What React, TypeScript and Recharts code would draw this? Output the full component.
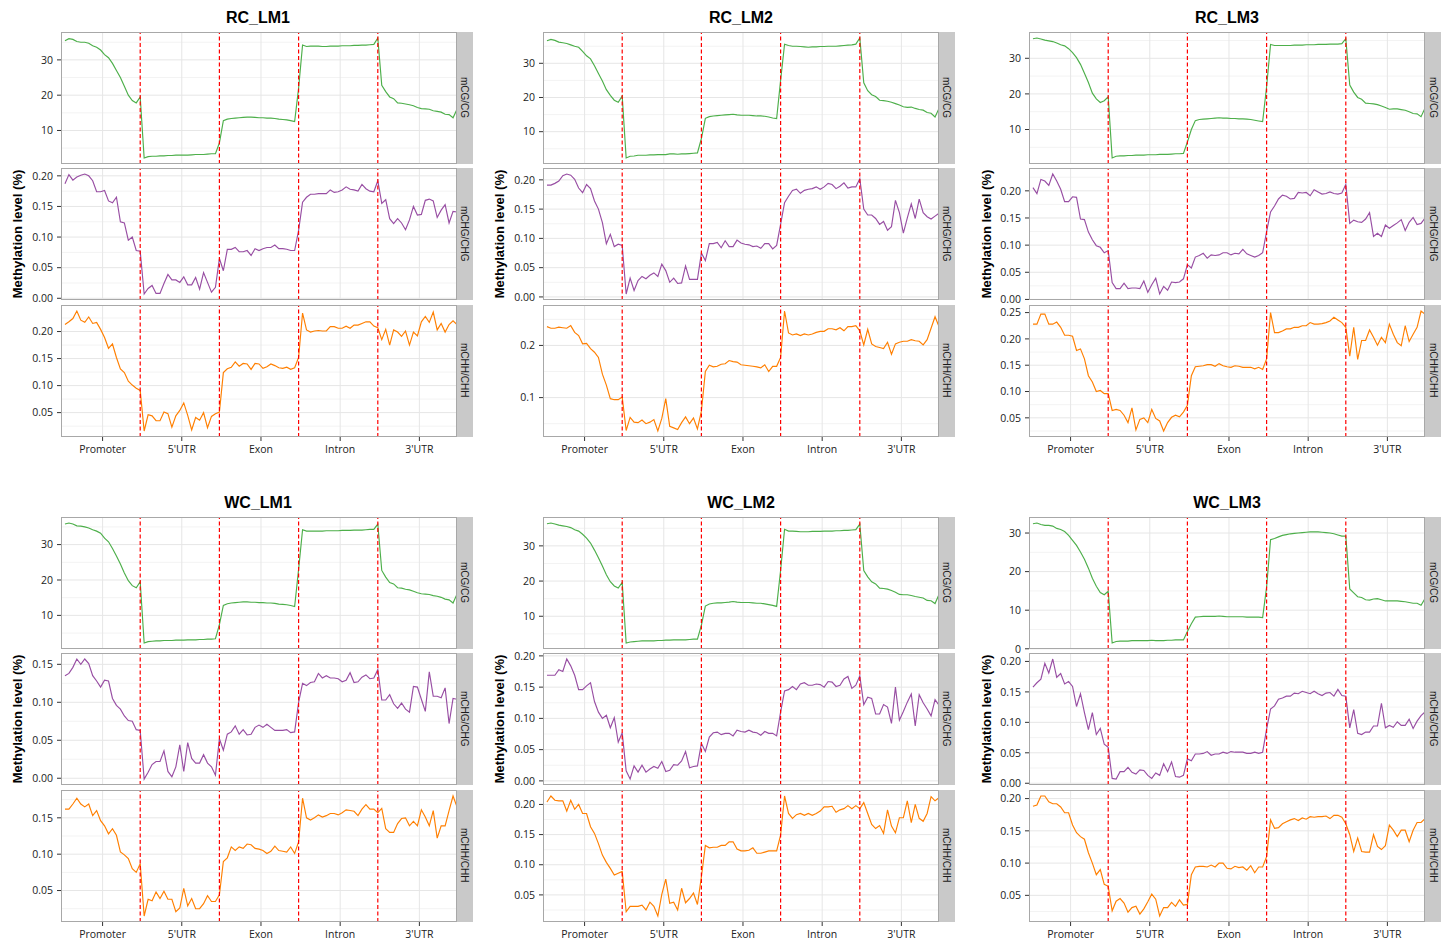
import { LineChart, Line, XAxis, YAxis, ReferenceLine } from "recharts";

const REGIONS = ["Promoter", "5'UTR", "Exon", "Intron", "3'UTR"];
const REGION_TICKS = [10.5, 30.5, 50.5, 70.5, 90.5];
const BOUNDARIES = [20, 40, 60, 80];
const CONTEXTS = ["mCG/CG", "mCHG/CHG", "mCHH/CHH"];
const COLORS = ["#4daf4a", "#984ea3", "#ff7f00"];

// methylation level per bin, 20 bins per region (Promoter, 5'UTR, Exon, Intron, 3'UTR)
const RC_LM1_CG = [
  35.4, 36.0, 35.8, 35.2, 35.0, 35.0, 34.7, 34.0, 33.6, 32.8, 31.5, 30.6, 29.0, 27.0, 25.0, 22.5, 20.0, 18.5, 17.8, 19.5,
  2.2, 2.6, 2.7, 2.7, 2.8, 2.8, 2.9, 2.9, 3.0, 3.0, 3.0, 3.0, 3.1, 3.2, 3.2, 3.2, 3.3, 3.4, 3.4, 6.5,
  12.8, 13.2, 13.4, 13.5, 13.6, 13.7, 13.8, 13.8, 13.7, 13.6, 13.6, 13.5, 13.5, 13.4, 13.2, 13.1, 13.0, 12.8, 12.5, 22.0,
  34.2, 33.8, 33.9, 33.9, 33.9, 33.8, 33.8, 33.9, 33.9, 33.9, 34.0, 34.0, 34.0, 34.1, 34.1, 34.2, 34.2, 34.3, 34.4, 36.2,
  22.8, 21.0, 19.5, 19.0, 17.8, 17.7, 17.5, 17.3, 17.0, 16.5, 16.2, 16.1, 16.0, 15.6, 15.4, 15.2, 14.6, 14.5, 13.6, 16.0,
];
const RC_LM1_CHG = [
  0.187, 0.202, 0.193, 0.198, 0.201, 0.203, 0.200, 0.192, 0.174, 0.174, 0.176, 0.159, 0.156, 0.165, 0.125, 0.123, 0.095, 0.100, 0.078, 0.077,
  0.007, 0.016, 0.021, 0.008, 0.008, 0.024, 0.039, 0.030, 0.030, 0.026, 0.035, 0.022, 0.022, 0.034, 0.015, 0.042, 0.026, 0.010, 0.018, 0.065,
  0.045, 0.080, 0.080, 0.083, 0.076, 0.076, 0.078, 0.070, 0.081, 0.078, 0.081, 0.083, 0.083, 0.087, 0.081, 0.081, 0.080, 0.078, 0.078, 0.111,
  0.157, 0.165, 0.170, 0.170, 0.171, 0.171, 0.171, 0.177, 0.173, 0.174, 0.177, 0.182, 0.178, 0.177, 0.175, 0.186, 0.179, 0.175, 0.174, 0.192,
  0.155, 0.161, 0.130, 0.122, 0.130, 0.123, 0.112, 0.128, 0.150, 0.136, 0.137, 0.160, 0.162, 0.159, 0.132, 0.144, 0.153, 0.123, 0.142, 0.141,
];
const RC_LM1_CHH = [
  0.213, 0.218, 0.224, 0.238, 0.221, 0.217, 0.227, 0.215, 0.217, 0.204, 0.189, 0.169, 0.177, 0.152, 0.131, 0.124, 0.108, 0.101, 0.095, 0.091,
  0.016, 0.046, 0.044, 0.035, 0.035, 0.051, 0.048, 0.023, 0.044, 0.054, 0.068, 0.045, 0.018, 0.041, 0.036, 0.050, 0.022, 0.043, 0.048, 0.051,
  0.124, 0.131, 0.134, 0.144, 0.136, 0.141, 0.140, 0.130, 0.141, 0.140, 0.132, 0.135, 0.140, 0.137, 0.133, 0.132, 0.134, 0.130, 0.133, 0.152,
  0.234, 0.203, 0.199, 0.201, 0.202, 0.201, 0.201, 0.209, 0.209, 0.206, 0.206, 0.210, 0.206, 0.212, 0.212, 0.215, 0.218, 0.218, 0.210, 0.207,
  0.185, 0.204, 0.175, 0.203, 0.199, 0.191, 0.201, 0.175, 0.199, 0.192, 0.218, 0.228, 0.217, 0.236, 0.203, 0.215, 0.199, 0.213, 0.220, 0.213,
];

const RC_LM2_CG = [
  36.6, 37.0, 36.7, 36.2, 36.0, 35.8, 35.4, 35.0, 34.7, 33.5, 32.2, 31.3, 29.3, 27.0, 24.8, 22.3, 20.6, 19.2, 18.6, 20.4,
  2.3, 2.8, 2.9, 3.1, 3.1, 3.1, 3.2, 3.2, 3.3, 3.3, 3.3, 3.5, 3.5, 3.4, 3.5, 3.5, 3.6, 3.7, 3.8, 8.0,
  13.9, 14.4, 14.6, 14.7, 14.8, 14.9, 15.0, 15.1, 14.9, 14.8, 14.8, 14.8, 14.7, 14.6, 14.6, 14.5, 14.3, 14.0, 13.8, 25.0,
  35.6, 35.2, 35.0, 35.0, 34.9, 34.8, 34.7, 34.8, 34.8, 34.9, 34.9, 35.0, 35.0, 35.0, 35.1, 35.2, 35.3, 35.4, 35.6, 37.4,
  24.3, 22.0, 20.8, 20.3, 19.2, 19.1, 18.9, 18.6, 18.2, 17.8, 17.3, 17.1, 17.2, 16.8, 16.5, 16.3, 15.6, 15.4, 14.3, 16.8,
];
const RC_LM2_CHG = [
  0.191, 0.191, 0.194, 0.198, 0.207, 0.210, 0.208, 0.201, 0.186, 0.178, 0.192, 0.185, 0.164, 0.150, 0.127, 0.091, 0.107, 0.086, 0.090, 0.088,
  0.005, 0.032, 0.011, 0.028, 0.035, 0.031, 0.037, 0.041, 0.035, 0.056, 0.045, 0.025, 0.032, 0.023, 0.024, 0.053, 0.030, 0.030, 0.030, 0.075,
  0.062, 0.091, 0.091, 0.093, 0.084, 0.096, 0.086, 0.086, 0.097, 0.092, 0.090, 0.089, 0.086, 0.087, 0.083, 0.091, 0.091, 0.082, 0.088, 0.124,
  0.161, 0.172, 0.182, 0.184, 0.177, 0.182, 0.184, 0.185, 0.188, 0.184, 0.188, 0.194, 0.192, 0.185, 0.189, 0.195, 0.186, 0.188, 0.188, 0.202,
  0.150, 0.140, 0.140, 0.134, 0.124, 0.129, 0.114, 0.120, 0.165, 0.144, 0.109, 0.135, 0.159, 0.134, 0.167, 0.144, 0.137, 0.133, 0.138, 0.143,
];
const RC_LM2_CHH = [
  0.236, 0.233, 0.233, 0.235, 0.234, 0.233, 0.238, 0.225, 0.219, 0.203, 0.204, 0.194, 0.187, 0.177, 0.145, 0.124, 0.098, 0.096, 0.096, 0.101,
  0.037, 0.062, 0.053, 0.052, 0.057, 0.050, 0.053, 0.058, 0.036, 0.060, 0.098, 0.045, 0.042, 0.039, 0.052, 0.063, 0.050, 0.061, 0.040, 0.074,
  0.150, 0.162, 0.159, 0.160, 0.164, 0.165, 0.171, 0.169, 0.168, 0.163, 0.162, 0.161, 0.160, 0.159, 0.157, 0.163, 0.150, 0.160, 0.160, 0.177,
  0.266, 0.224, 0.220, 0.222, 0.219, 0.222, 0.220, 0.222, 0.225, 0.227, 0.227, 0.232, 0.232, 0.230, 0.234, 0.228, 0.236, 0.236, 0.238, 0.228,
  0.201, 0.231, 0.203, 0.198, 0.196, 0.194, 0.206, 0.183, 0.203, 0.206, 0.208, 0.208, 0.211, 0.209, 0.208, 0.201, 0.211, 0.233, 0.255, 0.236,
];

const RC_LM3_CG = [
  35.5, 35.7, 35.4, 35.1, 34.9, 34.7, 34.3, 33.8, 33.5, 32.7, 31.6, 30.2, 28.3, 25.8, 23.2, 20.2, 18.6, 17.6, 18.1, 19.2,
  2.0, 2.5, 2.6, 2.6, 2.7, 2.7, 2.8, 2.8, 2.8, 2.9, 2.9, 2.9, 3.0, 3.0, 3.0, 3.1, 3.2, 3.2, 3.3, 6.5,
  10.0, 12.5, 12.8, 12.9, 13.0, 13.1, 13.2, 13.3, 13.2, 13.2, 13.1, 13.1, 13.0, 13.0, 12.9, 12.8, 12.6, 12.4, 12.2, 22.0,
  33.9, 33.6, 33.6, 33.6, 33.6, 33.6, 33.7, 33.7, 33.7, 33.8, 33.8, 33.8, 33.9, 33.9, 33.9, 34.0, 34.0, 34.0, 34.1, 35.5,
  22.5, 20.5, 19.0, 18.5, 17.4, 17.3, 17.2, 17.0, 16.6, 16.2, 15.7, 15.8, 15.8, 15.6, 15.4, 15.0, 14.5, 14.4, 13.6, 16.0,
];
const RC_LM3_CHG = [
  0.206, 0.195, 0.221, 0.218, 0.210, 0.231, 0.218, 0.203, 0.180, 0.180, 0.189, 0.188, 0.148, 0.147, 0.124, 0.110, 0.099, 0.096, 0.086, 0.090,
  0.031, 0.020, 0.020, 0.030, 0.020, 0.021, 0.021, 0.020, 0.034, 0.013, 0.027, 0.039, 0.010, 0.024, 0.017, 0.032, 0.031, 0.032, 0.038, 0.064,
  0.058, 0.078, 0.081, 0.085, 0.076, 0.082, 0.081, 0.082, 0.086, 0.086, 0.082, 0.085, 0.084, 0.092, 0.084, 0.081, 0.078, 0.081, 0.086, 0.125,
  0.161, 0.172, 0.185, 0.192, 0.190, 0.185, 0.186, 0.197, 0.196, 0.197, 0.191, 0.202, 0.198, 0.194, 0.195, 0.198, 0.195, 0.194, 0.196, 0.212,
  0.140, 0.146, 0.143, 0.142, 0.148, 0.160, 0.116, 0.122, 0.116, 0.137, 0.131, 0.136, 0.141, 0.147, 0.127, 0.142, 0.151, 0.138, 0.140, 0.150,
];
const RC_LM3_CHH = [
  0.228, 0.228, 0.247, 0.247, 0.228, 0.228, 0.232, 0.222, 0.207, 0.207, 0.205, 0.178, 0.181, 0.162, 0.130, 0.118, 0.100, 0.102, 0.096, 0.096,
  0.064, 0.066, 0.064, 0.055, 0.041, 0.069, 0.027, 0.047, 0.050, 0.041, 0.066, 0.049, 0.044, 0.025, 0.041, 0.051, 0.055, 0.052, 0.061, 0.074,
  0.130, 0.147, 0.148, 0.149, 0.151, 0.151, 0.148, 0.153, 0.149, 0.147, 0.146, 0.149, 0.148, 0.146, 0.146, 0.146, 0.143, 0.146, 0.142, 0.162,
  0.250, 0.212, 0.212, 0.215, 0.219, 0.219, 0.222, 0.222, 0.225, 0.225, 0.231, 0.228, 0.228, 0.229, 0.231, 0.234, 0.241, 0.236, 0.231, 0.222,
  0.167, 0.222, 0.161, 0.197, 0.197, 0.217, 0.203, 0.188, 0.203, 0.193, 0.228, 0.209, 0.193, 0.187, 0.225, 0.195, 0.209, 0.222, 0.253, 0.247,
];

const WC_LM1_CG = [
  35.8, 36.1, 35.8, 35.3, 35.2, 35.0, 34.7, 34.2, 33.8, 33.2, 31.8, 30.8, 28.9, 26.8, 24.5, 22.0, 19.8, 18.4, 17.8, 19.5,
  2.2, 2.6, 2.7, 2.8, 2.8, 2.9, 2.9, 2.9, 3.0, 3.0, 3.0, 3.1, 3.1, 3.1, 3.2, 3.2, 3.3, 3.3, 3.4, 7.4,
  12.8, 13.3, 13.5, 13.6, 13.7, 13.8, 13.8, 13.7, 13.7, 13.6, 13.6, 13.5, 13.5, 13.4, 13.2, 13.1, 13.0, 12.8, 12.5, 23.0,
  34.2, 33.8, 33.8, 33.8, 33.8, 33.8, 33.9, 33.9, 33.9, 33.9, 34.0, 34.0, 34.0, 34.1, 34.1, 34.1, 34.2, 34.3, 34.3, 35.8,
  22.7, 20.8, 19.3, 18.9, 17.8, 17.7, 17.4, 17.2, 16.8, 16.4, 16.1, 16.0, 15.9, 15.6, 15.4, 15.1, 14.6, 14.4, 13.5, 16.0,
];
const WC_LM1_CHG = [
  0.135, 0.138, 0.146, 0.157, 0.150, 0.157, 0.151, 0.135, 0.128, 0.120, 0.129, 0.128, 0.105, 0.096, 0.091, 0.082, 0.076, 0.075, 0.064, 0.063,
  -0.001, 0.008, 0.018, 0.022, 0.022, 0.036, 0.009, 0.002, 0.015, 0.044, 0.009, 0.047, 0.026, 0.020, 0.020, 0.031, 0.020, 0.015, 0.004, 0.052,
  0.037, 0.058, 0.061, 0.069, 0.058, 0.064, 0.057, 0.058, 0.067, 0.070, 0.067, 0.071, 0.067, 0.063, 0.063, 0.063, 0.064, 0.060, 0.061, 0.100,
  0.125, 0.122, 0.126, 0.127, 0.138, 0.132, 0.135, 0.132, 0.132, 0.131, 0.127, 0.129, 0.139, 0.126, 0.127, 0.133, 0.136, 0.131, 0.132, 0.143,
  0.103, 0.103, 0.110, 0.098, 0.092, 0.099, 0.091, 0.087, 0.121, 0.120, 0.104, 0.088, 0.140, 0.108, 0.108, 0.106, 0.119, 0.072, 0.105, 0.104,
];
const WC_LM1_CHH = [
  0.162, 0.162, 0.169, 0.177, 0.169, 0.165, 0.169, 0.153, 0.160, 0.146, 0.139, 0.128, 0.135, 0.126, 0.103, 0.099, 0.094, 0.080, 0.075, 0.087,
  0.015, 0.038, 0.036, 0.048, 0.039, 0.049, 0.038, 0.038, 0.021, 0.026, 0.053, 0.029, 0.039, 0.025, 0.025, 0.032, 0.043, 0.035, 0.035, 0.044,
  0.090, 0.095, 0.110, 0.105, 0.110, 0.108, 0.114, 0.113, 0.108, 0.107, 0.105, 0.101, 0.104, 0.111, 0.105, 0.104, 0.103, 0.110, 0.101, 0.117,
  0.177, 0.150, 0.147, 0.150, 0.154, 0.151, 0.153, 0.156, 0.156, 0.154, 0.157, 0.161, 0.160, 0.159, 0.153, 0.162, 0.168, 0.162, 0.162, 0.157,
  0.163, 0.135, 0.130, 0.130, 0.142, 0.149, 0.150, 0.139, 0.145, 0.139, 0.161, 0.151, 0.139, 0.160, 0.122, 0.139, 0.139, 0.160, 0.180, 0.165,
];

const WC_LM2_CG = [
  36.3, 36.5, 36.2, 35.9, 35.7, 35.5, 35.2, 34.6, 34.2, 33.3, 32.2, 30.8, 28.8, 26.6, 24.3, 21.8, 19.8, 18.6, 18.0, 19.6,
  2.4, 2.7, 2.8, 2.9, 3.0, 3.0, 3.0, 3.0, 3.1, 3.1, 3.2, 3.2, 3.3, 3.3, 3.3, 3.3, 3.4, 3.5, 3.5, 7.5,
  12.9, 13.5, 13.7, 13.8, 13.8, 13.9, 14.0, 14.2, 14.0, 13.9, 13.9, 13.9, 13.8, 13.7, 13.7, 13.5, 13.3, 13.1, 12.8, 23.0,
  34.7, 34.2, 34.2, 34.1, 34.0, 34.0, 34.0, 34.1, 34.1, 34.1, 34.2, 34.2, 34.2, 34.3, 34.3, 34.4, 34.4, 34.5, 34.6, 36.2,
  23.0, 21.2, 19.8, 19.2, 18.0, 17.9, 17.7, 17.3, 16.8, 16.2, 16.1, 16.1, 15.9, 15.6, 15.4, 15.2, 14.5, 14.4, 13.6, 16.2,
];
const WC_LM2_CHG = [
  0.169, 0.169, 0.169, 0.178, 0.175, 0.195, 0.184, 0.169, 0.146, 0.146, 0.152, 0.157, 0.127, 0.110, 0.100, 0.105, 0.085, 0.101, 0.062, 0.077,
  0.016, 0.003, 0.024, 0.014, 0.025, 0.014, 0.019, 0.023, 0.020, 0.031, 0.015, 0.017, 0.026, 0.025, 0.032, 0.047, 0.021, 0.023, 0.024, 0.060,
  0.047, 0.070, 0.077, 0.078, 0.074, 0.076, 0.076, 0.072, 0.081, 0.079, 0.078, 0.081, 0.078, 0.077, 0.073, 0.079, 0.076, 0.076, 0.072, 0.110,
  0.144, 0.146, 0.151, 0.146, 0.155, 0.157, 0.153, 0.153, 0.155, 0.154, 0.150, 0.159, 0.158, 0.151, 0.153, 0.163, 0.167, 0.148, 0.153, 0.168,
  0.122, 0.134, 0.132, 0.107, 0.107, 0.122, 0.118, 0.092, 0.150, 0.097, 0.111, 0.126, 0.139, 0.088, 0.138, 0.125, 0.115, 0.104, 0.130, 0.121,
];
const WC_LM2_CHH = [
  0.204, 0.214, 0.207, 0.206, 0.206, 0.189, 0.207, 0.192, 0.200, 0.185, 0.185, 0.163, 0.152, 0.135, 0.116, 0.104, 0.094, 0.083, 0.086, 0.089,
  0.022, 0.031, 0.031, 0.031, 0.033, 0.025, 0.038, 0.031, 0.015, 0.051, 0.076, 0.036, 0.038, 0.025, 0.061, 0.037, 0.044, 0.053, 0.034, 0.080,
  0.132, 0.128, 0.129, 0.129, 0.132, 0.132, 0.138, 0.138, 0.126, 0.123, 0.123, 0.124, 0.128, 0.119, 0.119, 0.121, 0.123, 0.123, 0.123, 0.149,
  0.214, 0.185, 0.177, 0.183, 0.185, 0.182, 0.185, 0.182, 0.185, 0.189, 0.196, 0.196, 0.197, 0.187, 0.191, 0.193, 0.198, 0.193, 0.198, 0.193,
  0.203, 0.185, 0.167, 0.160, 0.165, 0.152, 0.191, 0.164, 0.153, 0.178, 0.178, 0.206, 0.170, 0.200, 0.177, 0.172, 0.185, 0.213, 0.206, 0.211,
];

const WC_LM3_CG = [
  32.4, 32.6, 32.2, 32.0, 32.0, 31.8, 31.2, 30.9, 30.4, 29.4, 28.1, 26.8, 25.1, 23.2, 20.9, 18.3, 16.2, 14.6, 14.0, 14.9,
  1.5, 1.9, 2.0, 2.0, 2.0, 2.1, 2.1, 2.1, 2.1, 2.1, 2.2, 2.1, 2.1, 2.1, 2.2, 2.2, 2.3, 2.3, 2.3, 4.5,
  6.5, 8.2, 8.3, 8.4, 8.4, 8.4, 8.4, 8.5, 8.4, 8.3, 8.3, 8.3, 8.3, 8.3, 8.2, 8.2, 8.2, 8.2, 8.1, 16.0,
  28.3, 28.6, 29.0, 29.4, 29.6, 29.8, 29.9, 30.0, 30.1, 30.2, 30.3, 30.3, 30.3, 30.2, 30.1, 30.0, 29.8, 29.5, 29.2, 29.2,
  15.5, 14.5, 13.5, 13.3, 12.7, 12.6, 12.9, 13.0, 12.7, 12.4, 12.4, 12.4, 12.4, 12.3, 12.2, 12.0, 11.8, 11.8, 11.3, 13.0,
];
const WC_LM3_CHG = [
  0.158, 0.165, 0.171, 0.197, 0.181, 0.204, 0.174, 0.180, 0.163, 0.167, 0.159, 0.126, 0.147, 0.116, 0.088, 0.116, 0.080, 0.090, 0.064, 0.059,
  0.008, 0.007, 0.019, 0.019, 0.026, 0.018, 0.015, 0.022, 0.021, 0.013, 0.008, 0.017, 0.013, 0.032, 0.019, 0.035, 0.011, 0.010, 0.013, 0.040,
  0.037, 0.048, 0.048, 0.049, 0.052, 0.046, 0.048, 0.048, 0.051, 0.049, 0.052, 0.051, 0.051, 0.051, 0.049, 0.049, 0.051, 0.049, 0.051, 0.089,
  0.122, 0.127, 0.138, 0.140, 0.143, 0.143, 0.148, 0.147, 0.151, 0.149, 0.147, 0.151, 0.147, 0.144, 0.148, 0.149, 0.143, 0.154, 0.144, 0.143,
  0.091, 0.121, 0.082, 0.080, 0.084, 0.084, 0.094, 0.094, 0.131, 0.091, 0.095, 0.092, 0.101, 0.095, 0.095, 0.105, 0.090, 0.102, 0.111, 0.117,
];
const WC_LM3_CHH = [
  0.188, 0.190, 0.204, 0.204, 0.195, 0.192, 0.192, 0.187, 0.178, 0.178, 0.159, 0.147, 0.141, 0.137, 0.116, 0.100, 0.082, 0.090, 0.067, 0.064,
  0.026, 0.041, 0.045, 0.038, 0.024, 0.031, 0.033, 0.021, 0.029, 0.040, 0.052, 0.044, 0.018, 0.031, 0.031, 0.039, 0.033, 0.043, 0.035, 0.036,
  0.082, 0.094, 0.095, 0.095, 0.094, 0.097, 0.094, 0.100, 0.100, 0.092, 0.091, 0.095, 0.093, 0.094, 0.089, 0.096, 0.085, 0.094, 0.094, 0.110,
  0.167, 0.154, 0.155, 0.161, 0.164, 0.167, 0.169, 0.166, 0.170, 0.168, 0.172, 0.171, 0.172, 0.172, 0.173, 0.169, 0.174, 0.174, 0.171, 0.161,
  0.144, 0.118, 0.139, 0.118, 0.117, 0.117, 0.144, 0.126, 0.121, 0.127, 0.159, 0.151, 0.141, 0.151, 0.151, 0.133, 0.151, 0.163, 0.163, 0.169,
];

// y tick labels per facet
const TICKS_CG = [10, 20, 30];
const TICKS_CG0 = [0, 10, 20, 30];
const TICKS_020 = [0, 0.05, 0.1, 0.15, 0.2];
const TICKS_015 = [0, 0.05, 0.1, 0.15];
const TICKS_05_20 = [0.05, 0.1, 0.15, 0.2];
const TICKS_05_25 = [0.05, 0.1, 0.15, 0.2, 0.25];
const TICKS_05_15 = [0.05, 0.1, 0.15];
const TICKS_1_2 = [0.1, 0.2];

const PANELS = [
  { title: "RC_LM1", series: [RC_LM1_CG, RC_LM1_CHG, RC_LM1_CHH], ticks: [TICKS_CG, TICKS_020, TICKS_05_20] },
  { title: "RC_LM2", series: [RC_LM2_CG, RC_LM2_CHG, RC_LM2_CHH], ticks: [TICKS_CG, TICKS_020, TICKS_1_2] },
  { title: "RC_LM3", series: [RC_LM3_CG, RC_LM3_CHG, RC_LM3_CHH], ticks: [TICKS_CG, TICKS_020, TICKS_05_25] },
  { title: "WC_LM1", series: [WC_LM1_CG, WC_LM1_CHG, WC_LM1_CHH], ticks: [TICKS_CG, TICKS_015, TICKS_05_15] },
  { title: "WC_LM2", series: [WC_LM2_CG, WC_LM2_CHG, WC_LM2_CHH], ticks: [TICKS_CG, TICKS_020, TICKS_05_20] },
  { title: "WC_LM3", series: [WC_LM3_CG, WC_LM3_CHG, WC_LM3_CHH], ticks: [TICKS_CG0, TICKS_020, TICKS_05_20] },
];

const COL_X = [60.7, 542.5, 1029];
const TITLE_X = [258, 741, 1227];
const ROW_Y = [0, 485];
const FACET_Y = [31.5, 168, 304.5];
const FACET_H = 132;
const PLOT_W = 396;
const STRIP_W = 16;
const AXIS_W = 45;
const XAXIS_H = 26;
const PAD = 8; // room so edge tick labels are not clipped
const TICK_FONT = "'Open Sans', 'Liberation Sans', sans-serif";
const HEAD_FONT = "'Liberation Sans', Arial, sans-serif";

function Facet({ values, ticks, color, label, left, top, showX }: {
  values: number[]; ticks: number[]; color: string; label: string; left: number; top: number; showX: boolean;
}) {
  const rows = values.map((v, i) => ({ bin: i + 1, v }));
  const lo = Math.min(...values);
  const hi = Math.max(...values);
  const pad = (hi - lo) * 0.05;
  const domain: [number, number] = [lo - pad, hi + pad];
  const step = ticks[1] - ticks[0];
  const digits = step >= 1 ? 0 : step >= 0.099 ? 1 : 2;
  const minor = ticks.map((t) => t - step / 2).concat(ticks[ticks.length - 1] + step / 2);
  const h = FACET_H + (showX ? XAXIS_H : 0) + 2 * PAD;

  return (
    <>
      <div style={{ position: "absolute", left: left - AXIS_W, top: top - PAD, width: AXIS_W + PLOT_W, height: h }}>
        <LineChart width={AXIS_W + PLOT_W} height={h} data={rows} margin={{ top: PAD, right: 0, bottom: PAD, left: 0 }}>
          <XAxis
            type="number"
            dataKey="bin"
            domain={[0, 100]}
            ticks={REGION_TICKS}
            interval={0}
            hide={!showX}
            height={XAXIS_H}
            axisLine={false}
            tickLine={{ stroke: "#333" }}
            tickSize={4}
            tickMargin={5}
            tick={{ fontSize: 10.5, fill: "#222", fontFamily: TICK_FONT }}
            tickFormatter={(t: number) => REGIONS[REGION_TICKS.indexOf(t)]}
          />
          <YAxis
            type="number"
            domain={domain}
            ticks={ticks}
            interval={0}
            width={AXIS_W}
            axisLine={false}
            tickLine={{ stroke: "#333" }}
            tickSize={4}
            tickMargin={4}
            tick={{ fontSize: 10.5, fill: "#222", fontFamily: TICK_FONT }}
            tickFormatter={(t: number) => t.toFixed(digits)}
          />
          {minor.map((y) => (
            <ReferenceLine key={"n" + y} y={y} stroke="#f3f3f3" strokeWidth={1} />
          ))}
          {ticks.map((y) => (
            <ReferenceLine key={"j" + y} y={y} stroke="#e6e6e6" strokeWidth={1} />
          ))}
          {REGION_TICKS.map((x) => (
            <ReferenceLine key={"v" + x} x={x} stroke="#e6e6e6" strokeWidth={1} />
          ))}
          <Line
            type="linear"
            dataKey="v"
            stroke={color}
            strokeWidth={1.15}
            dot={false}
            activeDot={false}
            isAnimationActive={false}
          />
          {BOUNDARIES.map((x) => (
            <ReferenceLine key={"b" + x} x={x} stroke="#ff0000" strokeWidth={1.2} strokeDasharray="4 2.5" />
          ))}
        </LineChart>
      </div>
      <div
        style={{
          position: "absolute", left, top, width: PLOT_W, height: FACET_H,
          border: "1px solid #a8a8a8", boxSizing: "border-box", pointerEvents: "none",
        }}
      />
      <div
        style={{
          position: "absolute", left: left + PLOT_W, top, width: STRIP_W, height: FACET_H,
          background: "#c9c9c9", display: "flex", alignItems: "center", justifyContent: "center",
        }}
      >
        <span style={{ writingMode: "vertical-rl", fontSize: 10, fontFamily: HEAD_FONT, color: "#1a1a1a" }}>{label}</span>
      </div>
    </>
  );
}

export default function App() {
  return (
    <div style={{ position: "absolute", left: 0, top: 0, width: 1448, height: 940, background: "#fff", overflow: "hidden" }}>
      {PANELS.map((p, pi) => {
        const col = pi % 3;
        const row = Math.floor(pi / 3);
        const x0 = COL_X[col];
        const y0 = ROW_Y[row];
        return (
          <div key={p.title}>
            <div
              style={{
                position: "absolute", left: TITLE_X[col] - 100, top: y0 + 8, width: 200, height: 20,
                textAlign: "center", fontFamily: HEAD_FONT, fontWeight: "bold", fontSize: 16, lineHeight: "20px", color: "#000",
              }}
            >
              {p.title}
            </div>
            <div
              style={{
                position: "absolute", left: x0 - 42.5 - 110, top: y0 + 234 - 9, width: 220, height: 18,
                textAlign: "center", fontFamily: HEAD_FONT, fontWeight: "bold", fontSize: 13, lineHeight: "18px",
                color: "#000", transform: "rotate(-90deg)",
              }}
            >
              Methylation level (%)
            </div>
            {p.series.map((vals, fi) => (
              <Facet
                key={fi}
                values={vals}
                ticks={p.ticks[fi]}
                color={COLORS[fi]}
                label={CONTEXTS[fi]}
                left={x0}
                top={y0 + FACET_Y[fi]}
                showX={fi === 2}
              />
            ))}
          </div>
        );
      })}
    </div>
  );
}
